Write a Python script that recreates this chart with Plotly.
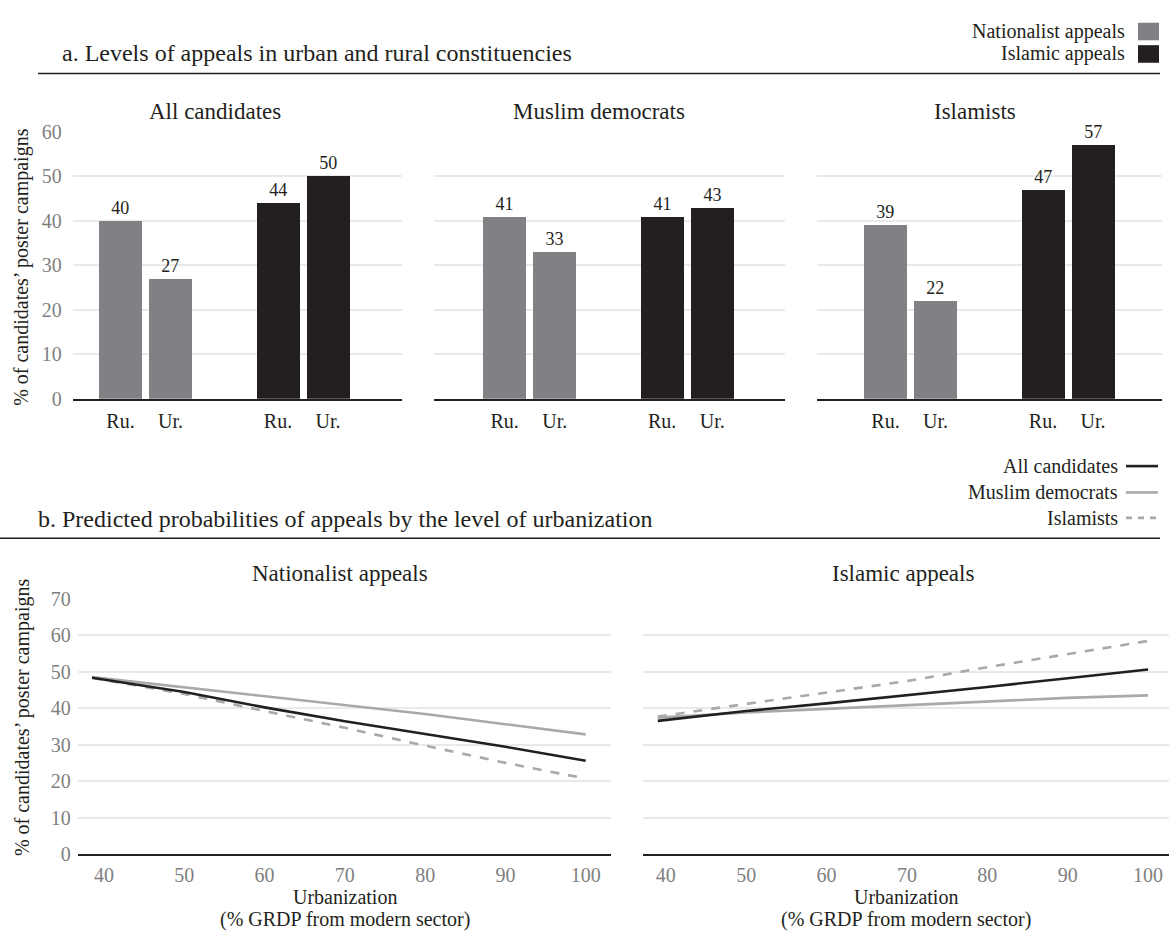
import plotly.graph_objects as go

# ---------------- data ----------------
panel_a_titles = ["All candidates", "Muslim democrats", "Islamists"]
bar_ticks = ["Ru.", "Ur.", "Ru.", "Ur."]
nationalist_rural = [40, 41, 39]
nationalist_urban = [27, 33, 22]
islamic_rural = [44, 41, 47]
islamic_urban = [50, 43, 57]

panel_b_titles = ["Nationalist appeals", "Islamic appeals"]
urban_nat = [38.5, 50, 60, 70, 80, 90, 100]
nat_all = [48.3, 44.4, 40.2, 36.4, 32.9, 29.4, 25.6]
nat_muslim_dem = [48.5, 45.7, 43.4, 41.0, 38.4, 35.6, 32.8]
nat_islamists = [48.3, 43.9, 39.2, 34.6, 29.7, 25.0, 20.7]

urban_isl = [39, 50, 60, 70, 80, 90, 100]
isl_all = [36.5, 39.2, 41.3, 43.5, 45.8, 48.2, 50.6]
isl_muslim_dem = [37.4, 38.8, 39.8, 40.8, 41.9, 42.8, 43.5]
isl_islamists = [37.7, 41.1, 44.2, 47.4, 51.2, 54.8, 58.4]

# ---------------- styling ----------------
W, H = 1170, 940
FONT = "Liberation Serif, Times New Roman, serif"
DARK = "#231f20"
BAR_GRAY = "#808184"
LINE_GRAY = "#a7a9ac"
TICK_GRAY = "#7f7f7f"
GRID = "#e9e9e9"


def fx(px):
    return px / W


def fy(py):
    return 1 - py / H


fig = go.Figure()

# ---------- panel a: grouped bars ----------
nat_pos = [0, 1]
isl_pos = [3.15, 4.15]
a_domains = [(72.7, 401.7), (434, 785), (816.7, 1162)]
a_first_bar = [120.5, 504.7, 885.5]
pitch = 50.0
a_y = (397, 123.7)

for i in range(3):
    ax = "" if i == 0 else str(i + 1)
    d0, d1 = a_domains[i]
    start = -(a_first_bar[i] - d0) / pitch
    end = start + (d1 - d0) / pitch
    nat_vals = [nationalist_rural[i], nationalist_urban[i]]
    isl_vals = [islamic_rural[i], islamic_urban[i]]
    for pos, vals, col in ((nat_pos, nat_vals, BAR_GRAY), (isl_pos, isl_vals, DARK)):
        fig.add_trace(go.Bar(
            x=pos, y=vals, width=0.86, marker=dict(color=col, line=dict(width=0)),
            text=[str(v) for v in vals], textposition="outside",
            textfont=dict(family=FONT, size=18, color=DARK),
            cliponaxis=False, showlegend=False, hoverinfo="skip",
            xaxis="x" + ax, yaxis="y" + ax))
    fig.layout["xaxis" + ax] = dict(
        domain=[fx(d0), fx(d1)], range=[start, end], anchor="y" + ax,
        tickvals=nat_pos + isl_pos, ticktext=bar_ticks, ticks="",
        tickfont=dict(family=FONT, size=20, color=DARK), ticklabelstandoff=4,
        showgrid=False, zeroline=False, showline=True, linecolor=DARK, linewidth=1.5,
        fixedrange=True)
    fig.layout["yaxis" + ax] = dict(
        domain=[fy(a_y[0]), fy(a_y[1])], range=[0, 60], anchor="x" + ax,
        tickvals=[0, 10, 20, 30, 40, 50, 60], showticklabels=(i == 0),
        tickfont=dict(family=FONT, size=20, color=TICK_GRAY), ticklabelstandoff=10,
        showgrid=True, gridcolor=GRID, gridwidth=1.5, zeroline=False, showline=False,
        fixedrange=True)

# ---------- panel b: predicted probability lines ----------
b_domains = [(77.7, 611), (643.3, 1169)]
b_ranges = [(36.72, 103.15), (37.2, 102.6)]
b_y = (863.3, 601.7)
b_series = [
    (urban_nat, nat_all, nat_muslim_dem, nat_islamists),
    (urban_isl, isl_all, isl_muslim_dem, isl_islamists),
]
for j in range(2):
    ax = str(j + 4)
    xs, s_all, s_md, s_isl = b_series[j]
    for ys, col, dash in ((s_md, LINE_GRAY, "solid"), (s_isl, LINE_GRAY, "dash"),
                          (s_all, DARK, "solid")):
        fig.add_trace(go.Scatter(
            x=xs, y=ys, mode="lines", line=dict(color=col, width=2.6, dash=dash),
            showlegend=False, hoverinfo="skip", xaxis="x" + ax, yaxis="y" + ax))
    d0, d1 = b_domains[j]
    fig.layout["xaxis" + ax] = dict(
        domain=[fx(d0), fx(d1)], range=list(b_ranges[j]), anchor="y" + ax,
        tickvals=[40, 50, 60, 70, 80, 90, 100], ticks="",
        tickfont=dict(family=FONT, size=20, color=TICK_GRAY), ticklabelstandoff=2,
        showgrid=False, zeroline=False, showline=True, linecolor=DARK, linewidth=1.5,
        fixedrange=True)
    fig.layout["yaxis" + ax] = dict(
        domain=[fy(b_y[0]), fy(b_y[1])], range=[0, 70], anchor="x" + ax,
        tickvals=[0, 10, 20, 30, 40, 50, 60, 70], showticklabels=(j == 0),
        tickfont=dict(family=FONT, size=20, color=TICK_GRAY), ticklabelstandoff=6,
        showgrid=True, gridcolor=GRID, gridwidth=1.5, zeroline=False, showline=False,
        fixedrange=True)

# ---------- text and decorations ----------
ann = []
shapes = []


def text(s, x, y, size, xanchor="center", color=DARK, angle=0):
    ann.append(dict(text=s, x=fx(x), y=fy(y), xref="paper", yref="paper",
                    xanchor=xanchor, yanchor="middle", showarrow=False, textangle=angle,
                    font=dict(family=FONT, size=size, color=color)))


# headings and rules
text("a. Levels of appeals in urban and rural constituencies", 60, 43, 24, "left")
shapes.append(dict(type="line", xref="paper", yref="paper", x0=fx(38), x1=fx(1160),
                   y0=fy(64), y1=fy(64), line=dict(color=DARK, width=1.5)))
text("b. Predicted probabilities of appeals by the level of urbanization", 36, 520, 24, "left")
shapes.append(dict(type="line", xref="paper", yref="paper", x0=fx(0), x1=fx(1160),
                   y0=fy(540), y1=fy(540), line=dict(color=DARK, width=1.5)))

# panel subtitles
for t, cx in zip(panel_a_titles, [215, 599, 975]):
    text(t, cx, 103, 23)
for t, cx in zip(panel_b_titles, [340, 903]):
    text(t, cx, 576, 23)

# axis titles
ytitle = "% of candidates’ poster campaigns"
text(ytitle, 22, 262, 20, angle=-90)
text(ytitle, 22, 723, 20, angle=-90)
for cx in [345, 906]:
    text("Urbanization", cx, 907, 20)
    text("(% GRDP from modern sector)", cx, 930, 20)

# legend for panel a
for label, col, cy in (("Nationalist appeals", BAR_GRAY, 21), ("Islamic appeals", DARK, 44)):
    text(label, 1127, cy, 20, "right")
    shapes.append(dict(type="rect", xref="paper", yref="paper",
                       x0=fx(1138), x1=fx(1159), y0=fy(cy - 9), y1=fy(cy + 9),
                       fillcolor=col, line=dict(width=0)))

# legend for panel b
for label, col, dash, cy in (("All candidates", DARK, "solid", 466),
                             ("Muslim democrats", LINE_GRAY, "solid", 493),
                             ("Islamists", LINE_GRAY, "dash", 519)):
    text(label, 1120, cy, 20, "right")
    shapes.append(dict(type="line", xref="paper", yref="paper", x0=fx(1126), x1=fx(1158),
                       y0=fy(cy), y1=fy(cy), line=dict(color=col, width=2.6,
                                                       dash="6px,6px" if dash == "dash" else "solid")))

fig.update_layout(
    width=W, height=H, margin=dict(l=0, r=0, t=0, b=0),
    paper_bgcolor="white", plot_bgcolor="white",
    annotations=ann, shapes=shapes, bargap=0, showlegend=False,
    font=dict(family=FONT, color=DARK),
)

fig.write_html("out.html")
